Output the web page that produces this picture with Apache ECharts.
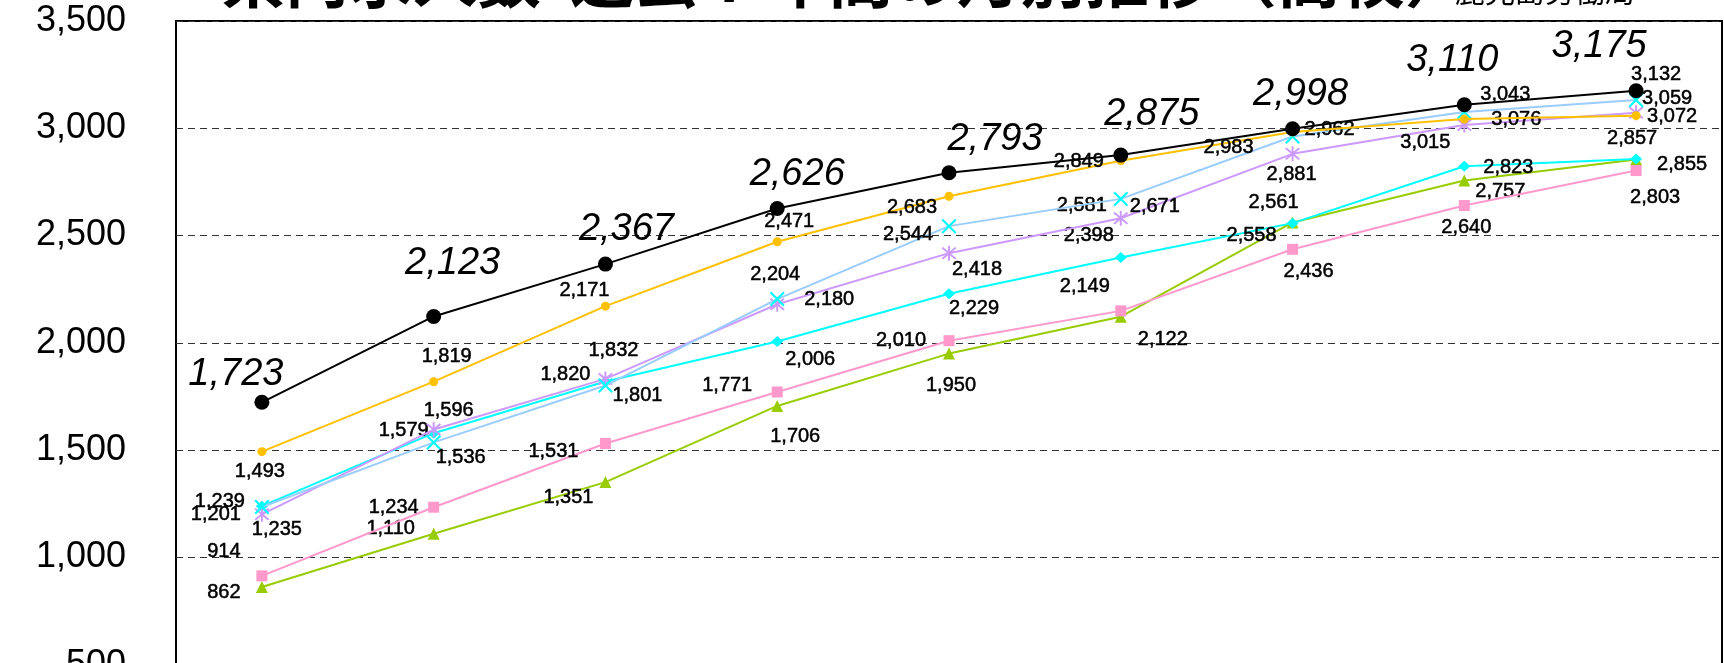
<!DOCTYPE html>
<html>
<head>
<meta charset="utf-8">
<script src="https://cdn.jsdelivr.net/npm/echarts@6/dist/echarts.min.js"></script>
<style>
html,body{margin:0;padding:0;background:#fff;overflow:hidden;}
#main{width:1724px;height:663px;}
</style>
</head>
<body>
<div id="main"></div>
<script>
// ---- data ----
const categories = ['7月末','8月末','9月末','10月末','11月末','12月末','1月末','2月末','3月末'];
const yTicks = [0, 500, 1000, 1500, 2000, 2500, 3000, 3500];
const titleText = '県内求人数  過去 7 年間の月別推移（高校）';
const sourceText = '鹿児島労働局';
const name1 = '今年度';
const name2 = '1年前';
const name3 = '2年前';
const name4 = '3年前';
const name5 = '4年前';
const name6 = '5年前';
const name7 = '6年前';
const values1 = [1723, 2123, 2367, 2626, 2793, 2875, 2998, 3110, 3175]; // black
const values2 = [1493, 1819, 2171, 2471, 2683, 2849, 2983, 3043, 3059]; // gold
const values3 = [1235, 1536, 1801, 2204, 2544, 2671, 2962, 3076, 3132]; // light blue / x
const values4 = [1201, 1596, 1832, 2180, 2418, 2581, 2881, 3015, 3072]; // lavender / *
const values5 = [1239, 1579, 1820, 2006, 2229, 2398, 2558, 2823, 2857]; // cyan / diamond
const values6 = [914, 1234, 1531, 1771, 2010, 2149, 2436, 2640, 2803];  // pink / square
const values7 = [862, 1110, 1351, 1706, 1950, 2122, 2561, 2757, 2855];  // green / triangle

// ---- label placement (style only) ----
const off1 = [[-26,-28],[19,-53],[21,-35],[20,-34],[46,-33],[31,-41],[8,-34],[-12,-44],[-37,-44]];
const off2 = [[-2,20],[13,-25],[-21,-16],[12,-20],[-37,11],[-42,1],[-64,16],[41,-25],[31,-17]];
const off3 = [[15,22],[27,15],[32,10],[-2,-25],[-41,8],[34,8],[37,-7],[52,8],[20,-25]];
const off4 = [[-46,0],[15,-19],[8,-28],[52,-5],[28,16],[-39,-13],[-1,21],[-39,17],[36,4]];
const off5 = [[-42,-5],[-30,-3],[-40,-7],[33,18],[25,15],[-32,-22],[-41,12],[44,1],[-4,-20]];
const off6 = [[-38,-24],[-40,0],[-52,8],[-50,-7],[-48,0],[-36,-24],[16,22],[2,22],[19,27]];
const off7 = [[-38,5],[-43,-5],[-37,15],[18,31],[2,32],[42,23],[-19,-20],[36,11],[46,5]];

const FONT = '"Liberation Sans", Arial, sans-serif';
const fmt = v => Number(v).toLocaleString('en-US');

const X_PATH = 'path://M1,0 L5,4 L9,0 L10,1 L6,5 L10,9 L9,10 L5,6 L1,10 L0,9 L4,5 L0,1 Z';
const AST_PATH = 'path://M1,0 L5,4 L9,0 L10,1 L6,5 L10,9 L9,10 L5,6 L1,10 L0,9 L4,5 L0,1 Z M4.35,-1 L5.65,-1 L5.65,11 L4.35,11 Z';

function build(name, values, offs, lineColor, markColor, symbol, size, labelStyle, z) {
  return {
    name: name,
    type: 'line',
    z: z,
    data: values.map((v, i) => ({
      value: v,
      label: { offset: offs[i] }
    })),
    symbol: symbol,
    symbolSize: size,
    showAllSymbol: true,
    lineStyle: { color: lineColor, width: 2 },
    itemStyle: { color: markColor, borderWidth: 0 },
    label: Object.assign({
      show: true,
      position: 'inside',
      color: '#000',
      fontFamily: FONT,
      fontSize: 20,
      textBorderColor: '#000',
      textBorderWidth: 0.5,
      formatter: p => fmt(p.value)
    }, labelStyle || {}),
    emphasis: { disabled: true },
    animation: false
  };
}

const chart = echarts.init(document.getElementById('main'), null, { renderer: 'canvas' });
chart.setOption({
  animation: false,
  backgroundColor: '#fff',
  graphic: [
    { type: 'text', left: 221, top: -54, z: 10,
      style: { text: titleText, fill: '#000', font: 'bold 64px "Noto Sans CJK JP"' } },
    { type: 'text', left: 1455, top: -24, z: 10,
      style: { text: sourceText, fill: '#000', font: '30px "Noto Sans CJK JP"' } }
  ],
  grid: { left: 176, top: 21, width: 1546, height: 751, show: true, borderColor: '#000', borderWidth: 2,
          backgroundColor: 'transparent', containLabel: false, outerBoundsMode: 'none' },
  xAxis: {
    type: 'category',
    data: categories,
    boundaryGap: true,
    axisLine: { show: false },
    axisTick: { show: false },
    axisLabel: { show: false },
    splitLine: { show: false }
  },
  yAxis: {
    type: 'value',
    min: yTicks[0],
    max: yTicks[yTicks.length - 1],
    interval: yTicks[1] - yTicks[0],
    axisLine: { show: false },
    axisTick: { show: false },
    axisLabel: { margin: 50, fontSize: 36, color: '#000', fontFamily: FONT, formatter: v => fmt(v) },
    splitLine: { show: true, lineStyle: { color: '#333', width: 1, type: [7, 5] } }
  },
  series: [
    build(name7, values7, off7, '#99CC00', '#99CC00', 'triangle', 12, null, 2),
    build(name6, values6, off6, '#FF99CC', '#FF99CC', 'rect', 11, null, 3),
    build(name5, values5, off5, '#00FFFF', '#00FFFF', 'diamond', [12, 11], null, 4),
    build(name4, values4, off4, '#CC99FF', '#CC99FF', AST_PATH, 15, null, 5),
    build(name3, values3, off3, '#99CCFF', '#00FFFF', X_PATH, 15, null, 6),
    build(name2, values2, off2, '#FFC000', '#FFC000', 'circle', 9, null, 7),
    build(name1, values1, off1, '#000000', '#000000', 'circle', 15, { fontSize: 38, fontStyle: 'italic', textBorderWidth: 0 }, 8)
  ]
});
</script>
</body>
</html>
